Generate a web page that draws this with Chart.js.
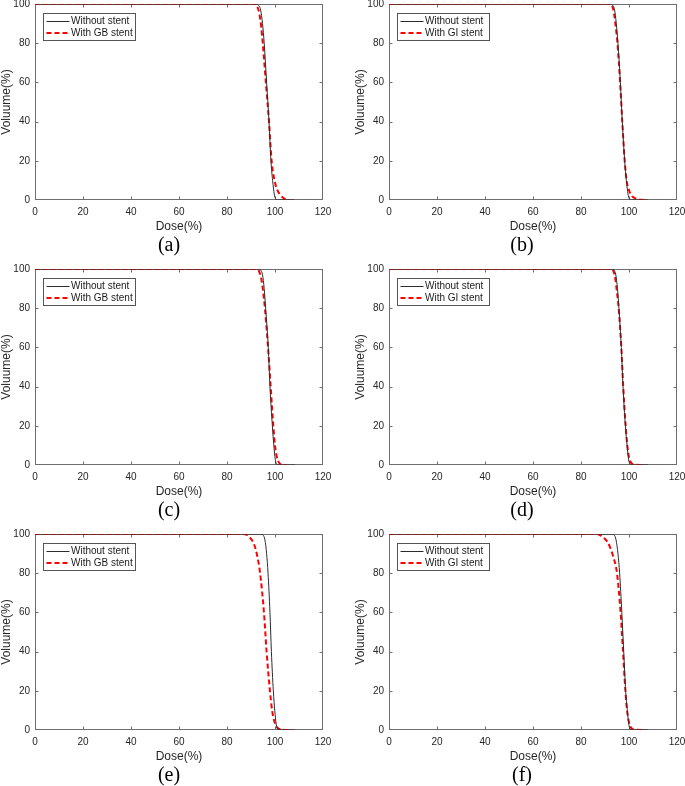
<!DOCTYPE html>
<html><head><meta charset="utf-8">
<script src="https://cdn.jsdelivr.net/npm/chart.js@4"></script>
<style>
body{margin:0;width:685px;height:786px;overflow:hidden;background:#fff;position:relative}
canvas{position:absolute}
.lab{position:absolute;font-family:"Liberation Serif","Times New Roman",serif;font-size:20px;color:#000;transform:translate(-50%,-50%);white-space:nowrap}
</style></head><body>
<script>
// ---- data ----
const xTickStep = 20, xMin = 0, xMax = 120;
const yTickStep = 20, yMin = 0, yMax = 100;
const panelLetters = ['(a)','(b)','(c)','(d)','(e)','(f)'];
const labelWithout = 'Without stent';
const stentLabels = ['With GB stent','With GI stent','With GB stent','With GI stent','With GB stent','With GI stent'];

// (a)
const doseA_wo = [0, 92, 93, 94, 94.8, 95.5, 96.5, 97.5, 98.3, 99, 99.7, 100.3, 101, 108];
const volA_wo  = [100, 100, 99.5, 97, 90, 80, 60, 40, 20, 10, 3, 0.5, 0, 0];
const doseA_w  = [0, 91.5, 92.5, 93.5, 94.3, 94.9, 96.2, 97.5, 98.6, 99.8, 101, 102.3, 103.5, 104.8, 106];
const volA_w   = [100, 100, 99, 95, 88, 80, 60, 40, 20, 10, 5, 2.5, 1, 0.2, 0];
// (b)
const doseB_wo = [0, 92, 93, 94, 94.7, 95.4, 96.4, 97.2, 98.2, 98.9, 99.6, 100.2, 100.8, 107.7];
const volB_wo  = [100, 100, 99.5, 97, 90, 80, 60, 40, 20, 10, 3, 0.5, 0, 0];
const doseB_w  = [0, 92, 93, 93.8, 94.5, 95.2, 96.3, 97.2, 98.2, 99, 100, 101.3, 103, 105, 107.7];
const volB_w   = [100, 100, 99, 95, 88, 80, 60, 40, 20, 10, 5, 2, 0.7, 0.1, 0];
// (c)
const doseC_wo = [0, 93, 94, 94.8, 95.5, 96.1, 97.2, 97.9, 98.9, 99.5, 100.1, 100.6, 101.2, 108.3];
const volC_wo  = [100, 100, 99.5, 97, 90, 80, 60, 40, 20, 10, 3, 0.5, 0, 0];
const doseC_w  = [0, 92.3, 93.3, 94.3, 95.1, 95.8, 97.1, 98.2, 99.3, 100, 100.8, 101.8, 103, 104.9];
const volC_w   = [100, 100, 99, 95, 88, 80, 60, 40, 20, 10, 4, 1, 0.2, 0];
// (d)
const doseD_wo = [0, 92.8, 93.7, 94.5, 95.2, 95.8, 96.8, 97.5, 98.5, 99.2, 99.8, 100.4, 101, 108];
const volD_wo  = [100, 100, 99.5, 97, 90, 80, 60, 40, 20, 10, 3, 0.5, 0, 0];
const doseD_w  = [0, 92.6, 93.5, 94.3, 95, 95.7, 96.8, 97.6, 98.6, 99.3, 100, 101, 102.5, 105];
const volD_w   = [100, 100, 99, 95, 88, 80, 60, 40, 20, 10, 4, 1, 0.2, 0];
// (e)
const doseE_wo = [0, 94, 95, 95.8, 96.5, 97.1, 97.9, 98.5, 99.3, 99.9, 100.5, 101.1, 101.7, 108.3];
const volE_wo  = [100, 100, 99.5, 97, 90, 80, 60, 40, 20, 10, 3, 0.5, 0, 0];
const doseE_w  = [0, 86.5, 88.3, 90, 91.2, 92.4, 93.8, 95.4, 96.5, 97.9, 98.8, 99.6, 100.5, 101.5, 103, 107];
const volE_w   = [100, 100, 99.5, 97.5, 95, 90, 80, 60, 40, 20, 10, 5, 2, 0.7, 0.2, 0];
// (f)
const doseF_wo = [0, 92.8, 93.8, 94.6, 95.4, 96.1, 97, 97.8, 98.6, 99.3, 99.9, 100.5, 101.1, 108];
const volF_wo  = [100, 100, 99.5, 97, 90, 80, 60, 40, 20, 10, 3, 0.5, 0, 0];
const doseF_w  = [0, 86, 87.8, 89.5, 91, 92.2, 93.3, 95, 96.5, 97.5, 98.5, 99.2, 100, 101, 102.5, 106.5];
const volF_w   = [100, 100, 99.5, 98, 96, 93, 89, 80, 60, 40, 20, 10, 4, 1, 0.2, 0];

const panels = [
  [doseA_wo, volA_wo, doseA_w, volA_w],
  [doseB_wo, volB_wo, doseB_w, volB_w],
  [doseC_wo, volC_wo, doseC_w, volC_w],
  [doseD_wo, volD_wo, doseD_w, volD_w],
  [doseE_wo, volE_wo, doseE_w, volE_w],
  [doseF_wo, volF_wo, doseF_w, volF_w]
];

// ---- layout ----
const FONT = '"Liberation Sans", Arial, Helvetica, sans-serif';
const colLeft = [-1, 353];     // canvas left
const rowPlotTop = [3, 268, 533];
const labelX = [169, 522];
const labelY = [244, 509, 774];

const zip = (xs, ys) => xs.map((x, i) => ({x, y: ys[i]}));

const boxPlugin = {
  id: 'matlabBox',
  beforeDatasetsDraw(chart) {
    const {ctx, chartArea: a, scales} = chart;
    ctx.save();
    ctx.strokeStyle = '#6e6e6e';
    ctx.lineWidth = 1;
    const L = Math.round(a.left) + 0.5, R = Math.round(a.right) - 0.5;
    const T = Math.round(a.top) + 0.5, B = Math.round(a.bottom) - 0.5;
    ctx.strokeRect(L, T, R - L, B - T);
    const tl = 3;
    ctx.beginPath();
    scales.x.ticks.forEach(t => {
      if (t.value <= xMin || t.value >= xMax) return;
      const px = Math.round(scales.x.getPixelForValue(t.value)) + 0.5;
      ctx.moveTo(px, B); ctx.lineTo(px, B - tl);
      ctx.moveTo(px, T); ctx.lineTo(px, T + tl);
    });
    scales.y.ticks.forEach(t => {
      if (t.value <= yMin || t.value >= yMax) return;
      const py = Math.round(scales.y.getPixelForValue(t.value)) + 0.5;
      ctx.moveTo(L, py); ctx.lineTo(L + tl, py);
      ctx.moveTo(R, py); ctx.lineTo(R - tl, py);
    });
    ctx.stroke();
    ctx.restore();
  }
};

const legendPlugin = {
  id: 'insideLegend',
  afterDatasetsDraw(chart) {
    const {ctx, chartArea: a} = chart;
    const bx = Math.round(a.left) + 8.5, by = Math.round(a.top) + 9.5, bw = 92, bh = 27;
    ctx.save();
    ctx.fillStyle = '#fff';
    ctx.fillRect(bx, by, bw, bh);
    ctx.strokeStyle = '#555';
    ctx.lineWidth = 1;
    ctx.strokeRect(bx, by, bw, bh);
    ctx.font = '10px ' + FONT;
    ctx.textBaseline = 'middle';
    ctx.textAlign = 'left';
    chart.data.datasets.forEach((ds, i) => {
      const cy = by + 8 + i * 11.5;
      ctx.strokeStyle = ds.borderColor;
      ctx.lineWidth = ds.borderWidth;
      ctx.setLineDash(ds.borderDash || []);
      ctx.beginPath();
      ctx.moveTo(bx + 3, cy); ctx.lineTo(bx + 26, cy);
      ctx.stroke();
      ctx.setLineDash([]);
      ctx.fillStyle = '#1a1a1a';
      ctx.fillText(ds.label, bx + 27.5, cy);
    });
    ctx.restore();
  }
};

panels.forEach((p, idx) => {
  const col = idx % 2, row = Math.floor(idx / 2);
  const c = document.createElement('canvas');
  c.width = 344; c.height = 243;
  c.style.left = colLeft[col] + 'px';
  c.style.top = (rowPlotTop[row] - 10) + 'px';
  document.body.appendChild(c);
  new Chart(c, {
    type: 'line',
    data: {datasets: [
      {label: labelWithout, data: zip(p[0], p[1]), borderColor: '#2b2b2b', borderWidth: 1,
       pointRadius: 0, cubicInterpolationMode: 'monotone', fill: false},
      {label: stentLabels[idx], data: zip(p[2], p[3]), borderColor: '#ff0000', borderWidth: 2,
       borderDash: [5, 3], pointRadius: 0, cubicInterpolationMode: 'monotone', fill: false}
    ]},
    options: {
      responsive: false, animation: false, devicePixelRatio: 1, events: [],
      layout: {padding: {top: 10, right: 20, bottom: 2, left: 0}},
      plugins: {legend: {display: false}, tooltip: {enabled: false}},
      scales: {
        x: {type: 'linear', min: xMin, max: xMax,
            grid: {display: false, drawTicks: false}, border: {display: false},
            ticks: {stepSize: xTickStep, padding: 6, color: '#262626', maxRotation: 0, autoSkip: false,
                    font: {size: 10, family: FONT}},
            title: {display: true, text: 'Dose(%)', color: '#262626', padding: 0,
                    font: {size: 12, family: FONT}},
            afterFit(a) { a.height = 34; }},
        y: {type: 'linear', min: yMin, max: yMax,
            grid: {display: false, drawTicks: false}, border: {display: false},
            ticks: {stepSize: yTickStep, padding: 5, color: '#262626',
                    font: {size: 10, family: FONT}},
            title: {display: true, text: 'Voluume(%)', color: '#262626', padding: 0,
                    font: {size: 12, family: FONT}},
            afterFit(a) { a.width = 36; }}
      }
    },
    plugins: [boxPlugin, legendPlugin]
  });
  const d = document.createElement('div');
  d.className = 'lab';
  d.textContent = panelLetters[idx];
  d.style.left = labelX[col] + 'px';
  d.style.top = labelY[row] + 'px';
  document.body.appendChild(d);
});
</script>
</body></html>
